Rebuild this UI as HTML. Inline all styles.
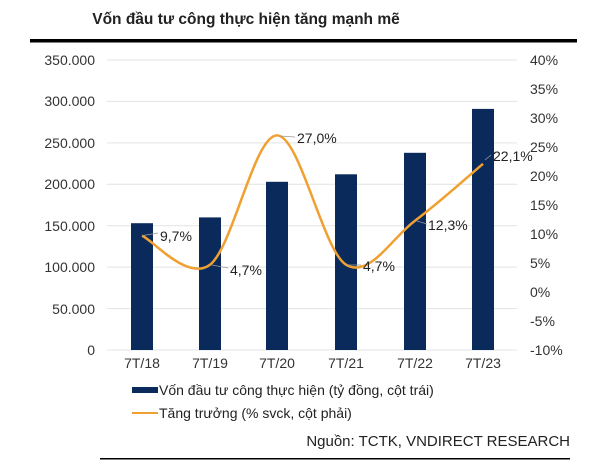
<!DOCTYPE html>
<html><head><meta charset="utf-8"><style>
body{margin:0;background:#fff;width:600px;height:466px;overflow:hidden}
svg{font-family:"Liberation Sans",Arial,sans-serif}
</style></head><body>
<svg width="600" height="466" viewBox="0 0 600 466">
<text x="246" y="24" font-size="15.5" font-weight="bold" fill="#222" text-anchor="middle">Vốn đầu tư công thực hiện tăng mạnh mẽ</text>
<rect x="30" y="39" width="547" height="3.5" fill="#000"/>
<g stroke="#e3e3e3" stroke-width="1">
<line x1="107" x2="517" y1="60" y2="60"/><line x1="107" x2="517" y1="101.4" y2="101.4"/>
<line x1="107" x2="517" y1="142.9" y2="142.9"/><line x1="107" x2="517" y1="184.3" y2="184.3"/>
<line x1="107" x2="517" y1="225.7" y2="225.7"/><line x1="107" x2="517" y1="267.1" y2="267.1"/>
<line x1="107" x2="517" y1="308.6" y2="308.6"/><line x1="107" x2="517" y1="350" y2="350"/>
</g>
<g font-size="14" fill="#333" text-anchor="end">
<text x="95" y="65">350.000</text><text x="95" y="106">300.000</text><text x="95" y="148">250.000</text>
<text x="95" y="189">200.000</text><text x="95" y="231">150.000</text><text x="95" y="272">100.000</text>
<text x="95" y="314">50.000</text><text x="95" y="355">0</text>
</g>
<g font-size="14" fill="#333">
<text x="530" y="65">40%</text><text x="530" y="94">35%</text><text x="530" y="123">30%</text>
<text x="530" y="152">25%</text><text x="530" y="181">20%</text><text x="530" y="210">15%</text>
<text x="530" y="239">10%</text><text x="530" y="268">5%</text><text x="530" y="297">0%</text>
<text x="530" y="326">-5%</text><text x="530" y="355">-10%</text>
</g>
<g fill="#0b2a5c">
<rect x="131" y="223.2" width="22" height="126.8"/>
<rect x="199" y="217.4" width="22" height="132.6"/>
<rect x="266" y="181.8" width="22" height="168.2"/>
<rect x="335" y="174.3" width="22" height="175.7"/>
<rect x="404" y="152.8" width="22" height="197.2"/>
<rect x="472" y="108.9" width="22" height="241.1"/>
</g>
<path d="M142,235.7 C153.3,240.5 187.5,281.4 210,264.7 C232.5,248 254.3,135.4 277,135.4 C299.7,135.4 323,250.5 346,264.7 C369,278.9 392.2,237.5 415,220.7 C437.8,203.9 471.7,173.3 483,163.8" fill="none" stroke="#f0a030" stroke-width="2.5"/>
<g stroke="#999" stroke-width="0.8" fill="none">
<path d="M142,235.7 L158,233"/><path d="M212,265 L228,268"/><path d="M280,136 L295,137"/>
<path d="M348,265 L361,265"/><path d="M417,221 L427,224"/><path d="M485,160 L491,155"/>
</g>
<g font-size="14" fill="#222">
<text x="160" y="241">9,7%</text><text x="230" y="275">4,7%</text><text x="297" y="143">27,0%</text>
<text x="363" y="271">4,7%</text><text x="428" y="230">12,3%</text><text x="493" y="161">22,1%</text>
</g>
<g font-size="14" fill="#333" text-anchor="middle">
<text x="142" y="368">7T/18</text><text x="210" y="368">7T/19</text><text x="277" y="368">7T/20</text>
<text x="346" y="368">7T/21</text><text x="415" y="368">7T/22</text><text x="483" y="368">7T/23</text>
</g>
<rect x="132" y="387" width="26" height="6" fill="#0b2a5c"/>
<text x="159" y="395" font-size="14" fill="#222">Vốn đầu tư công thực hiện (tỷ đồng, cột trái)</text>
<rect x="132" y="412" width="26" height="2" fill="#f0a030"/>
<text x="159" y="418" font-size="14" fill="#222">Tăng trưởng (% svck, cột phải)</text>
<text x="570" y="446" font-size="15" fill="#222" text-anchor="end">Nguồn:  TCTK, VNDIRECT RESEARCH</text>
<rect x="100" y="458" width="470" height="1.5" fill="#000"/>
</svg>
</body></html>
